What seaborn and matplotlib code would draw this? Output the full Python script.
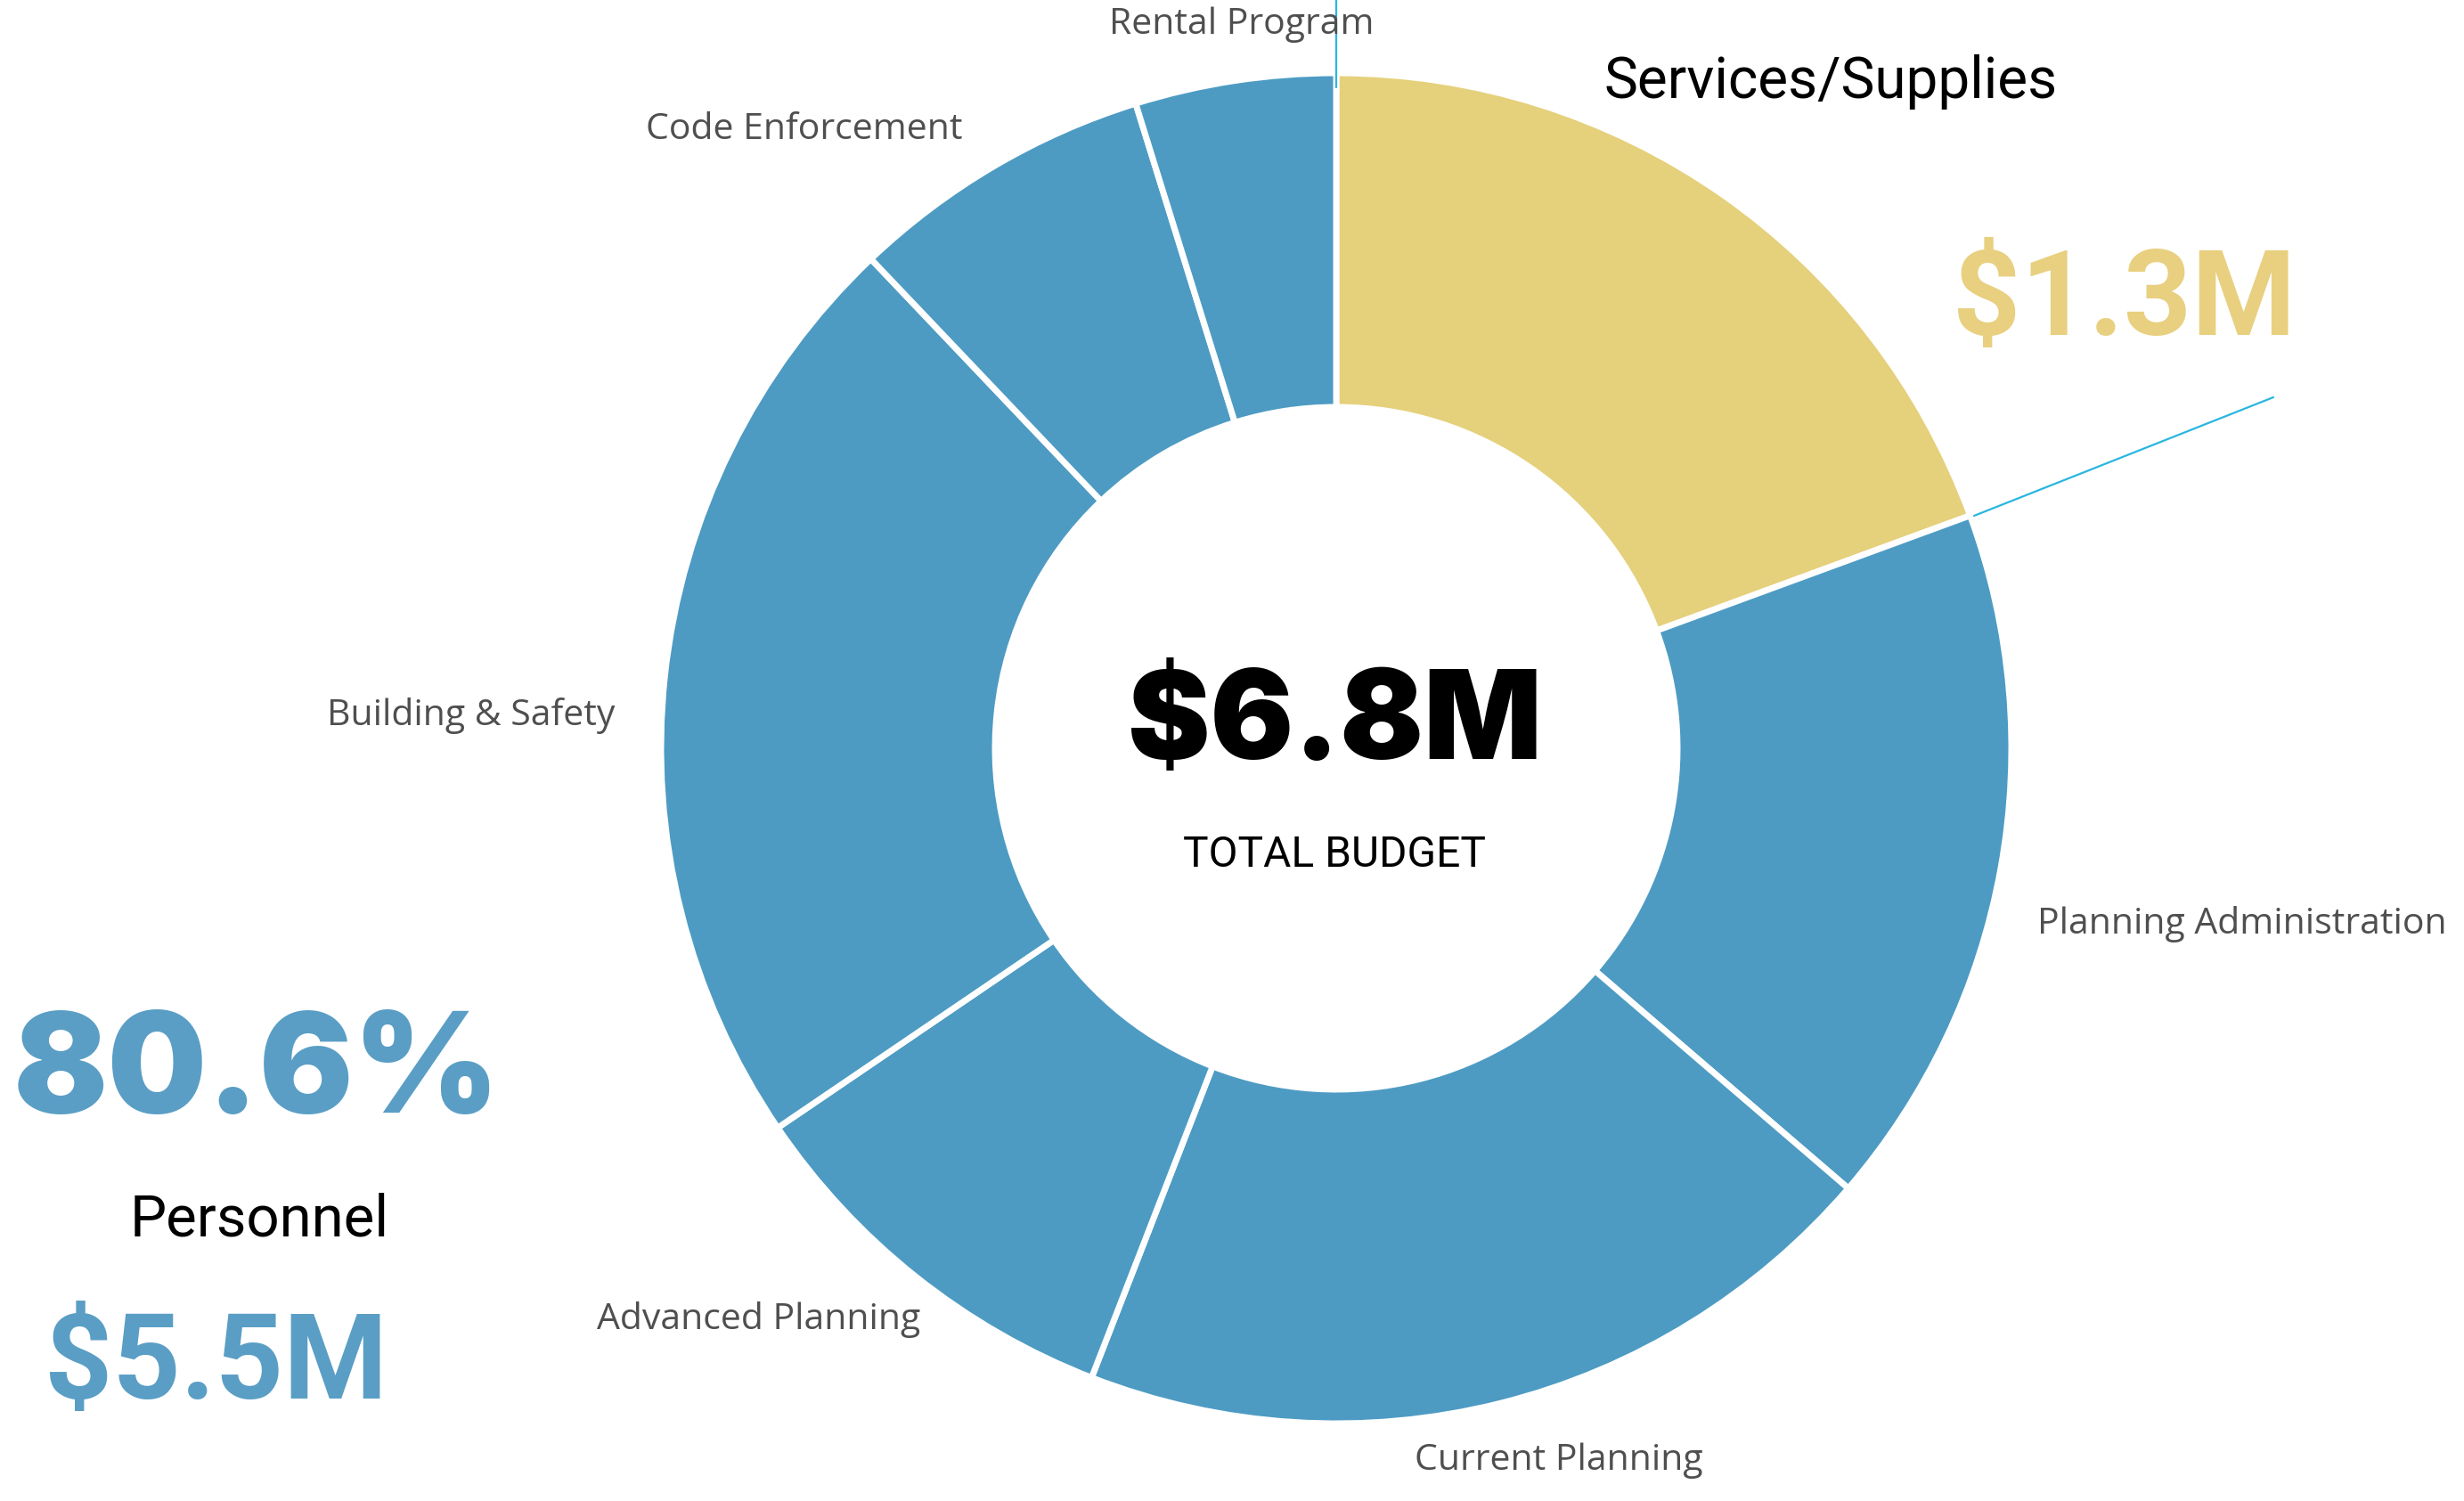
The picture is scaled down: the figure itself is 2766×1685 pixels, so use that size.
import matplotlib
matplotlib.use("Agg")
import matplotlib.pyplot as plt
import seaborn as sns

# Department budget shares (% of the $6.8M total), clockwise from 12 o'clock
categories = ["Services/Supplies", "Planning Administration", "Current Planning",
              "Advanced Planning", "Building & Safety", "Code Enforcement",
              "Rental Program"]
shares = [19.4, 16.9, 19.6, 9.6, 22.4, 7.3, 4.8]
groups = ["Services", "Personnel", "Personnel", "Personnel", "Personnel",
          "Personnel", "Personnel"]

total_label = "$6.8M"
total_caption = "TOTAL BUDGET"
personnel_pct = "80.6%"
personnel_amount = "$5.5M"
services_amount = "$1.3M"

sns.set_theme(style="white")
plt.rcParams["font.family"] = ["Roboto", "DejaVu Sans"]

W, H = 2766, 1685
fig = plt.figure(figsize=(W / 100, H / 100), dpi=100)
ax = fig.add_axes([0, 0, 1, 1])

palette = {"Personnel": "#4d9bc3", "Services": "#e5d07b"}
colors = [palette[g] for g in groups]

cx, cy = 1500, H - 840
R_out, R_in = 758, 383
ax.pie(shares, colors=colors, startangle=90, counterclock=False,
       center=(cx, cy), radius=R_out,
       wedgeprops=dict(width=R_out - R_in, edgecolor="white", linewidth=5))

ax.set_xlim(0, W)
ax.set_ylim(0, H)
ax.set_aspect("equal")
ax.axis("off")

def Y(y):
    return H - y

# slice labels
lab_kw = dict(family=["Open Sans", "DejaVu Sans"], color="#4f4f4f", fontsize=29.5,
              ha="center", va="center")
label_pos = {
    "Planning Administration": (2517, 1037),
    "Current Planning": (1750, 1640),
    "Advanced Planning": (852, 1482),
    "Building & Safety": (529, 803),
    "Code Enforcement": (903, 146),
    "Rental Program": (1394, 28),
}
for name, (x, y) in label_pos.items():
    ax.text(x, Y(y), name, **lab_kw)

# leader lines
ax.plot([1500, 1500], [Y(0), Y(98)], color="#29b6e0", lw=1.6)
ax.plot([2216, 2552], [Y(579), Y(446)], color="#29b6e0", lw=1.6)

# center total
ax.text(1498, Y(815), total_label, family=["Inter", "Roboto", "DejaVu Sans"],
        fontweight="black", fontsize=100, color="black", ha="center", va="center")
ax.text(1498, Y(960), total_caption, fontsize=34.5, color="black",
        ha="center", va="center")

# services block
ax.text(2055, Y(92), "Services/Supplies", fontsize=46, color="black",
        ha="center", va="center")
ax.text(2385, Y(339), services_amount, fontsize=96, fontweight="bold",
        color="#e8d080", ha="center", va="center")

# personnel block
ax.text(288, Y(1207), personnel_pct, family=["Inter", "Roboto", "DejaVu Sans"],
        fontweight="black", fontsize=113, color="#5a9ec5", ha="center", va="center")
ax.text(291, Y(1369), "Personnel", fontsize=47, color="black",
        ha="center", va="center")
ax.text(243, Y(1533), personnel_amount, fontsize=96, fontweight="bold",
        color="#5a9ec5", ha="center", va="center")

fig.savefig("out.png", dpi=100, facecolor="white")
